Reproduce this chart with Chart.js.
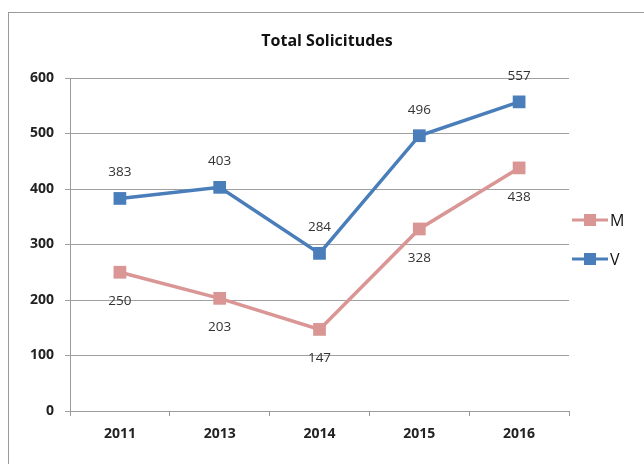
<!DOCTYPE html>
<html>
<head>
<meta charset="utf-8">
<script src="https://cdn.jsdelivr.net/npm/chart.js@4"></script>
<style>
  html, body { margin: 0; padding: 0; background: #fff; overflow: hidden; }
  #wrap { position: relative; width: 644px; height: 464px; }
  #frame { position: absolute; left: 8px; top: 12px; width: 700px; height: 500px; border: 1px solid #9a9a9a; box-sizing: border-box; }
  canvas { position: absolute; left: 0; top: 0; }
</style>
</head>
<body>
<div id="wrap">
  <div id="frame"></div>
  <canvas id="c" width="644" height="464"></canvas>
</div>
<script>
const chartTitle = "Total Solicitudes";
const categories = ["2011", "2013", "2014", "2015", "2016"];
const seriesNames = ["M", "V"];
const valuesM = [250, 203, 147, 328, 438];
const valuesV = [383, 403, 284, 496, 557];
const yTicks = [0, 100, 200, 300, 400, 500, 600];

const colorM = "#D99694";
const colorV = "#4A7EBB";
const FONT = "'Open Sans', 'Liberation Sans', sans-serif";

const titlePlugin = {
  id: "customTitle",
  afterDraw(chart) {
    const ctx = chart.ctx;
    ctx.save();
    ctx.font = "bold 16px " + FONT;
    ctx.fillStyle = "#111";
    ctx.textAlign = "center";
    ctx.textBaseline = "middle";
    ctx.fillText(chartTitle, 327, 41);
    ctx.restore();
  }
};

const labelPlugin = {
  id: "valueLabels",
  afterDatasetsDraw(chart) {
    const ctx = chart.ctx;
    ctx.save();
    ctx.font = "13.5px " + FONT;
    ctx.fillStyle = "#333";
    ctx.textAlign = "center";
    ctx.textBaseline = "middle";
    chart.data.datasets.forEach((ds, i) => {
      const meta = chart.getDatasetMeta(i);
      const off = ds.label === "V" ? -26 : 29;
      meta.data.forEach((pt, j) => {
        ctx.fillText(String(ds.data[j]), pt.x, pt.y + off);
      });
    });
    ctx.restore();
  }
};

const legendPlugin = {
  id: "customLegend",
  afterDraw(chart) {
    const ctx = chart.ctx;
    const items = chart.data.datasets;
    const ys = [220, 259];
    ctx.save();
    items.forEach((ds, i) => {
      const y = ys[i];
      ctx.strokeStyle = ds.borderColor;
      ctx.lineWidth = 3;
      ctx.beginPath();
      ctx.moveTo(572, y);
      ctx.lineTo(608, y);
      ctx.stroke();
      ctx.fillStyle = ds.backgroundColor;
      ctx.fillRect(590 - 6, y - 6, 12, 12);
      ctx.fillStyle = "#111";
      ctx.font = "16px " + FONT;
      ctx.textAlign = "left";
      ctx.textBaseline = "middle";
      ctx.fillText(ds.label, 610, y + 1);
    });
    ctx.restore();
  }
};

new Chart(document.getElementById("c"), {
  type: "line",
  data: {
    labels: categories,
    datasets: [
      {
        label: seriesNames[0],
        data: valuesM,
        borderColor: colorM,
        backgroundColor: colorM,
        borderWidth: 3.5,
        pointStyle: "rect",
        pointRadius: 9,
        pointBorderWidth: 0,
        tension: 0
      },
      {
        label: seriesNames[1],
        data: valuesV,
        borderColor: colorV,
        backgroundColor: colorV,
        borderWidth: 3.5,
        pointStyle: "rect",
        pointRadius: 9,
        pointBorderWidth: 0,
        tension: 0
      }
    ]
  },
  options: {
    responsive: false,
    animation: false,
    devicePixelRatio: 1,
    layout: { padding: { top: 78, right: 75, bottom: 0, left: 0 } },
    plugins: {
      legend: { display: false },
      title: { display: false },
      tooltip: { enabled: false }
    },
    scales: {
      x: {
        type: "category",
        offset: true,
        grid: {
          offset: true,
          drawOnChartArea: false,
          drawTicks: true,
          tickLength: 5,
          color: "#9a9a9a"
        },
        border: { display: true, color: "#9a9a9a", width: 1 },
        ticks: {
          font: { family: FONT, size: 14, weight: "bold" },
          color: "#222",
          padding: 10,
          maxRotation: 0
        },
        afterFit(scale) { scale.height = 53; }
      },
      y: {
        min: 0,
        max: 600,
        afterBuildTicks(scale) { scale.ticks = yTicks.map(v => ({ value: v })); },
        grid: {
          color: "#a0a0a0",
          lineWidth: 1,
          drawTicks: true,
          tickLength: 5
        },
        border: { display: true, color: "#9a9a9a", width: 1 },
        ticks: {
          font: { family: FONT, size: 14, weight: "bold" },
          color: "#222",
          padding: 11
        },
        afterFit(scale) { scale.width = 70; }
      }
    }
  },
  plugins: [titlePlugin, labelPlugin, legendPlugin]
});
</script>
</body>
</html>
